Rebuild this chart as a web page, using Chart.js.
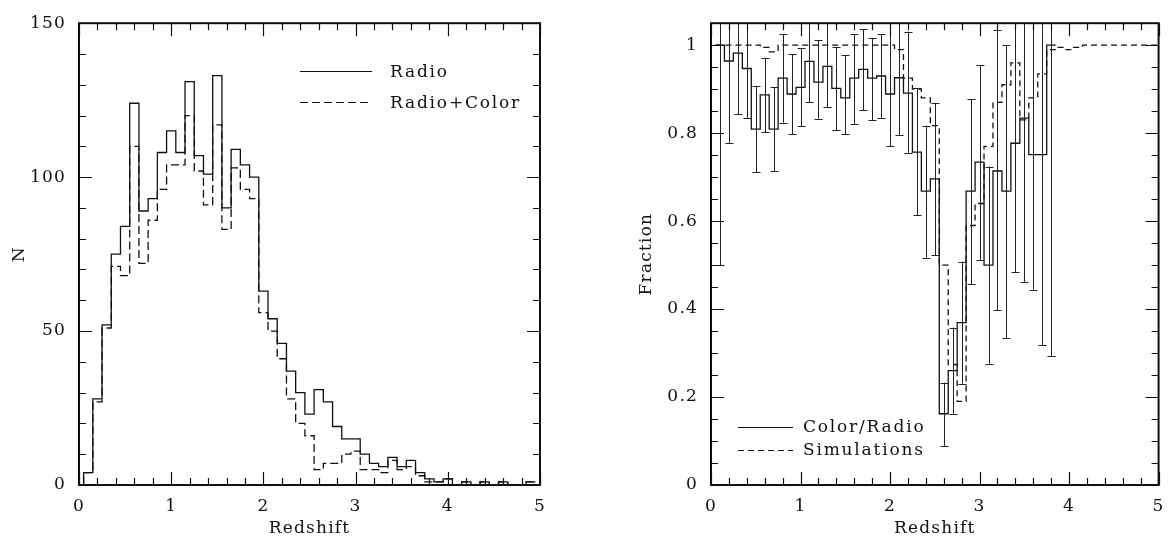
<!DOCTYPE html>
<html>
<head>
<meta charset="utf-8">
<script src="https://cdn.jsdelivr.net/npm/chart.js@4.4.1/dist/chart.umd.min.js"></script>
<style>
  body { margin: 0; background: #fff; }
  canvas { position: absolute; top: 0; }
</style>
</head>
<body>
<canvas id="leftChart" width="560" height="545" style="left:0px"></canvas>
<canvas id="rightChart" width="615" height="545" style="left:560px"></canvas>
<script>
// bin centres (redshift), width 0.1
const binZ = [0.1,0.2,0.3,0.4,0.5,0.6,0.7,0.8,0.9,1.0,1.1,1.2,1.3,1.4,1.5,1.6,1.7,1.8,1.9,2.0,
  2.1,2.2,2.3,2.4,2.5,2.6,2.7,2.8,2.9,3.0,3.1,3.2,3.3,3.4,3.5,3.6,3.7,3.8,3.9,4.0,
  4.1,4.2,4.3,4.4,4.5,4.6,4.7,4.8,4.9,5.0];

// left panel: counts
const radioN = [4,28,52,75,84,124,89,93,108,115,108,131,107,101,133,90,109,104,100,63,
  54,46,37,30,23,31,27,19,15,15,10,7,6,9,6,8,4,2,1,2,0,1,0,1,0,1,0,0,1];
const radioColorN = [4,27,51,71,68,110,72,86,96,104,104,120,102,91,117,83,103,96,93,56,
  50,41,28,20,16,5,7,7,10,11,5,5,4,8,5,6,3,1,1,2,0,1,0,1,0,1,0,0,1];

// right panel: fraction with error bar ends
const colorRadioFrac = [1.0,0.964,0.982,0.947,0.809,0.887,0.809,0.925,0.889,0.904,
  0.963,0.916,0.952,0.902,0.880,0.925,0.945,0.925,0.930,0.889,
  0.926,0.891,0.757,0.668,0.696,0.162,0.26,0.369,0.668,0.734,
  0.50,0.714,0.668,0.777,0.834,0.751,0.751,1.0];
const fracLow = [0.50,0.778,0.843,0.835,0.711,0.802,0.714,0.824,0.798,0.816,
  0.870,0.833,0.859,0.807,0.798,0.820,0.852,0.830,0.835,0.770,
  0.796,0.754,0.614,0.517,0.523,0.089,0.162,0.23,0.456,0.512,
  0.276,0.397,0.334,0.484,0.462,0.444,0.318,0.294];
const fracHigh = [1.5,1.15,1.12,1.06,0.908,0.971,0.904,1.025,0.979,0.993,
  1.056,1.011,1.06,0.995,0.977,1.025,1.036,1.016,1.025,1.06,
  1.06,1.031,0.902,0.817,0.869,0.233,0.358,0.508,0.878,0.954,
  0.724,1.035,1.0,1.07,1.2,1.06,1.18,1.7];
const simFrac = [1,1,1,1,1,0.995,0.985,1,1,1, 1,1,1,1,1,1,1,1,1,1,
  0.99,0.925,0.90,0.88,0.817,0.50,0.274,0.19,0.59,0.64,
  0.77,0.87,0.91,0.96,0.83,0.88,0.935,0.99,0.995,0.99,
  0.995,1,1,1,1,1,1,1,1,1];

// tick labels
const zTicks = [0,1,2,3,4,5];
const nTicks = [0,50,100,150];
const fracTicks = [0,0.2,0.4,0.6,0.8,1];

// step histogram points: x = upper bin edges, drawn with stepped 'after'
function stepPoints(centres, values, fromZero) {
  const half = (centres[1] - centres[0]) / 2;
  const pts = [{x: centres[0] - half, y: fromZero ? 0 : values[0]}];
  values.forEach((v, i) => pts.push({x: centres[i] + half, y: v}));
  return pts;
}

Chart.defaults.font.family = "'DejaVu Serif', serif";
Chart.defaults.font.size = 17;
Chart.defaults.color = '#111';

// box frame + inward ticks on all four sides, and legend
const framePlugin = {
  id: 'frameTicks',
  beforeDraw(chart) { chart.ctx.letterSpacing = '1.2px'; },
  afterDraw(chart, args, o) {
    const {ctx, chartArea: a, scales: {x, y}} = chart;
    ctx.save();
    ctx.strokeStyle = '#111';
    ctx.lineWidth = 1.2;
    ctx.beginPath();
    for (let i = 0; Math.round(x.min / o.xMinor) + i <= Math.round(x.max / o.xMinor); i++) {
      const v = x.min + i * o.xMinor;
      const maj = Math.abs(v / o.xMajor - Math.round(v / o.xMajor)) < 1e-6;
      const len = maj ? 13 : 7;
      const px = Math.round(x.getPixelForValue(v)) + 0.5;
      ctx.moveTo(px, a.bottom); ctx.lineTo(px, a.bottom - len);
      ctx.moveTo(px, a.top); ctx.lineTo(px, a.top + len);
    }
    for (let i = 0; y.min + i * o.yMinor <= y.max + 1e-9; i++) {
      const v = y.min + i * o.yMinor;
      const maj = Math.abs(v / o.yMajor - Math.round(v / o.yMajor)) < 1e-6;
      const len = maj ? 13 : 7;
      const py = Math.round(y.getPixelForValue(v)) + 0.5;
      ctx.moveTo(a.left, py); ctx.lineTo(a.left + len, py);
      ctx.moveTo(a.right, py); ctx.lineTo(a.right - len, py);
    }
    ctx.stroke();
    ctx.lineWidth = 2;
    ctx.strokeRect(a.left, a.top, a.right - a.left, a.bottom - a.top);
    // legend
    ctx.font = "17px 'DejaVu Serif'";
    ctx.letterSpacing = '1.8px';
    ctx.fillStyle = '#111';
    ctx.textBaseline = 'middle';
    ctx.lineWidth = 1.2;
    o.legend.forEach((it, i) => {
      const ly = (o.legendAt.fromBottom ? a.bottom : a.top) + o.legendAt.y + i * o.legendAt.step;
      const lx = a.left + o.legendAt.x;
      ctx.setLineDash(it.dash);
      ctx.beginPath();
      ctx.moveTo(lx, Math.round(ly) + 0.5);
      ctx.lineTo(lx + o.legendAt.len, Math.round(ly) + 0.5);
      ctx.stroke();
      ctx.setLineDash([]);
      ctx.fillText(it.text, lx + o.legendAt.len + o.legendAt.gap, ly + 1);
    });
    ctx.restore();
  }
};

// error bars for the fraction panel
const errorBarPlugin = {
  id: 'errorBars',
  afterDatasetsDraw(chart, args, o) {
    if (!o.centres) return;
    const {ctx, chartArea: a, scales: {x, y}} = chart;
    ctx.save();
    ctx.beginPath();
    ctx.rect(a.left, a.top, a.right - a.left, a.bottom - a.top);
    ctx.clip();
    ctx.strokeStyle = '#222';
    ctx.lineWidth = 1;
    ctx.beginPath();
    o.centres.forEach((c, i) => {
      const px = Math.round(x.getPixelForValue(c)) + 0.5;
      const y1 = y.getPixelForValue(o.low[i]);
      const y2 = y.getPixelForValue(o.high[i]);
      ctx.moveTo(px, y1); ctx.lineTo(px, y2);
      ctx.moveTo(px - 4, Math.round(y1) + 0.5); ctx.lineTo(px + 4, Math.round(y1) + 0.5);
      ctx.moveTo(px - 4, Math.round(y2) + 0.5); ctx.lineTo(px + 4, Math.round(y2) + 0.5);
    });
    ctx.stroke();
    ctx.restore();
  }
};

function xScale(titlePad) {
  return {
    type: 'linear', min: 0, max: 5,
    afterBuildTicks: s => { s.ticks = zTicks.map(v => ({value: v})); },
    afterFit: s => { s.height = 60; },
    grid: {display: false, drawTicks: false},
    border: {display: false},
    ticks: {padding: 11, maxRotation: 0, callback: v => String(v)},
    title: {display: true, text: 'Redshift', padding: {top: 0, bottom: titlePad}}
  };
}

const lineBase = {pointRadius: 0, stepped: 'after', borderColor: '#111', borderWidth: 1.3, fill: false};

new Chart(document.getElementById('leftChart'), {
  type: 'line',
  data: {
    datasets: [
      {...lineBase, label: 'Radio+Color', data: stepPoints(binZ, radioColorN, true), borderDash: [8, 4]},
      {...lineBase, label: 'Radio', data: stepPoints(binZ, radioN, true)}
    ]
  },
  options: {
    responsive: false, animation: false, devicePixelRatio: 1,
    layout: {padding: {top: 13, right: 20, left: 0, bottom: 0}},
    scales: {
      x: xScale(6),
      y: {
        type: 'linear', min: 0, max: 150,
        afterBuildTicks: s => { s.ticks = nTicks.map(v => ({value: v})); },
        afterFit: s => { s.width = 79; },
        grid: {display: false, drawTicks: false},
        border: {display: false},
        ticks: {padding: 13, callback: v => String(v)},
        title: {display: true, text: 'N', padding: {top: 9, bottom: 0}}
      }
    },
    plugins: {
      legend: {display: false}, tooltip: {enabled: false},
      frameTicks: {
        xMinor: 0.2, xMajor: 1, yMinor: 10, yMajor: 50,
        legend: [{text: 'Radio', dash: []}, {text: 'Radio+Color', dash: [8, 4]}],
        legendAt: {x: 221, y: 48, step: 31, len: 72, gap: 18, fromBottom: false}
      }
    }
  },
  plugins: [framePlugin]
});

new Chart(document.getElementById('rightChart'), {
  type: 'line',
  data: {
    datasets: [
      {...lineBase, label: 'Simulations', data: stepPoints(binZ, simFrac, false), borderDash: [6, 4]},
      {...lineBase, label: 'Color/Radio', data: stepPoints(binZ.slice(0, colorRadioFrac.length), colorRadioFrac, false)}
    ]
  },
  options: {
    responsive: false, animation: false, devicePixelRatio: 1,
    layout: {padding: {top: 13, right: 12, left: 0, bottom: 0}},
    scales: {
      x: xScale(6),
      y: {
        type: 'linear', min: 0, max: 1.05,
        afterBuildTicks: s => { s.ticks = fracTicks.map(v => ({value: v})); },
        afterFit: s => { s.width = 151; },
        grid: {display: false, drawTicks: false},
        border: {display: false},
        ticks: {padding: 13, callback: v => String(v)},
        title: {display: true, text: 'Fraction', padding: {top: 76, bottom: 0}}
      }
    },
    plugins: {
      legend: {display: false}, tooltip: {enabled: false},
      frameTicks: {
        xMinor: 0.2, xMajor: 1, yMinor: 0.05, yMajor: 0.2,
        legend: [{text: 'Color/Radio', dash: []}, {text: 'Simulations', dash: [6, 4]}],
        legendAt: {x: 27, y: -58, step: 23, len: 55, gap: 10, fromBottom: true}
      },
      errorBars: {centres: binZ.slice(0, colorRadioFrac.length), low: fracLow, high: fracHigh}
    }
  },
  plugins: [framePlugin, errorBarPlugin]
});
</script>
</body>
</html>
